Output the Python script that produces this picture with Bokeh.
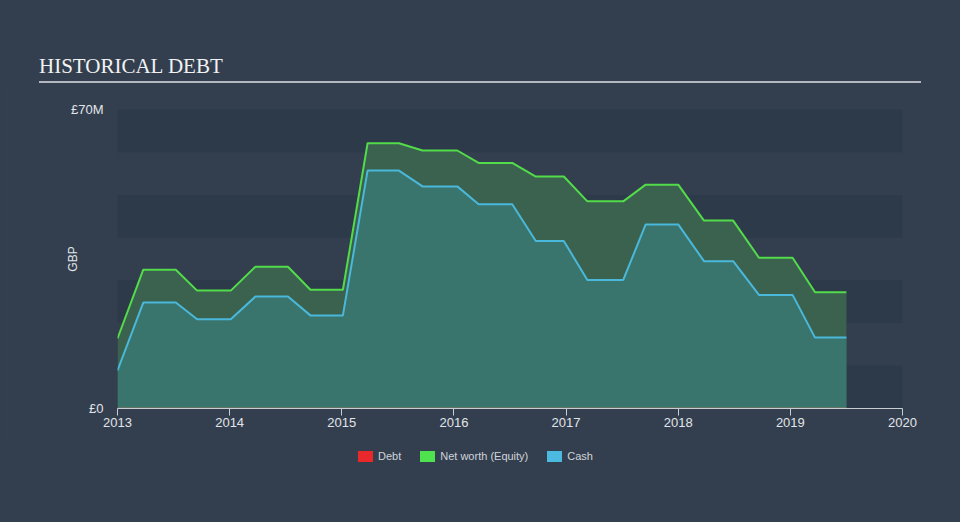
import math
from bokeh.plotting import figure
from bokeh.layouts import column
from bokeh.models import (ColumnDataSource, BoxAnnotation, Div, FixedTicker, Range1d)
from bokeh.embed import file_html
from bokeh.resources import INLINE

# ---- data ----
dates = [2013.0, 2013.23, 2013.52, 2013.71, 2014.01, 2014.23, 2014.52, 2014.72, 2015.01,
         2015.23, 2015.51, 2015.72, 2016.03, 2016.22, 2016.52, 2016.73, 2016.98, 2017.19,
         2017.51, 2017.71, 2018.0, 2018.23, 2018.49, 2018.72, 2019.02, 2019.22, 2019.5]
net_worth = [16.4, 32.5, 32.5, 27.6, 27.6, 33.2, 33.2, 27.8, 27.8,
             62.1, 62.1, 60.4, 60.4, 57.5, 57.5, 54.3, 54.3, 48.5,
             48.5, 52.4, 52.4, 44.0, 44.0, 35.3, 35.3, 27.2, 27.2]
cash = [8.9, 24.8, 24.8, 20.9, 20.9, 26.2, 26.2, 21.8, 21.8,
        55.7, 55.7, 52.0, 52.0, 47.8, 47.8, 39.2, 39.2, 30.1,
        30.1, 43.1, 43.1, 34.5, 34.5, 26.6, 26.6, 16.6, 16.6]
debt = [0.0] * len(dates)
x_ticks = [2013, 2014, 2015, 2016, 2017, 2018, 2019, 2020]
y_ticks = [0, 70]
y_tick_labels = {0: "£0", 70: "£70M"}
title_text = "HISTORICAL DEBT"
legend_labels = ["Debt", "Net worth (Equity)", "Cash"]
legend_colors = ["#e8282b", "#4fe24f", "#4bb9e0"]

BG = "#333f4f"
BAND = "#2d3a49"
TXT = "#e2e5e9"
HEADER_H = 84
FIG_H = 356
FOOTER_H = 522 - HEADER_H - FIG_H

src = ColumnDataSource(dict(x=dates, nw=net_worth, cash=cash, debt=debt,
                            zero=[0.0] * len(dates)))

header = Div(
    text=(f'<div style="margin-left:39px;width:882px;padding-top:56px;padding-bottom:4px;'
          f'line-height:21px;font-family:\'Liberation Serif\';font-size:21px;color:#f2f2f2;'
          f'border-bottom:2px solid #b4b9bf;">{title_text}</div>'),
    width=960, height=HEADER_H, margin=0,
    styles={"background-color": BG})

items_html = "".join(
    f'<span style="display:inline-block;width:15px;height:11px;background:{c};'
    f'margin-right:5px;"></span>'
    f'<span style="margin-right:19px;">{lab}</span>'
    for lab, c in zip(legend_labels, legend_colors))
footer = Div(
    text=(f'<div style="display:flex;align-items:center;padding-left:358px;padding-top:16px;'
          f'height:11px;line-height:11px;font-family:\'Liberation Sans\';font-size:11px;'
          f'color:#d0d4d9;white-space:nowrap;">{items_html}</div>'),
    width=960, height=FOOTER_H, margin=0,
    styles={"background-color": BG})

p = figure(width=960, height=FIG_H, output_backend="svg", toolbar_location=None,
           x_range=Range1d(2013, 2020), y_range=Range1d(0, 70),
           min_border_left=117, min_border_right=58, min_border_top=109 - HEADER_H,
           min_border_bottom=HEADER_H + FIG_H - 408, margin=0)
p.background_fill_color = BG
p.border_fill_color = BG
p.outline_line_color = None
p.xgrid.visible = False
p.ygrid.visible = False

# alternating bands
for lo in (0, 20, 40, 60):
    p.add_layout(BoxAnnotation(bottom=lo, top=lo + 10, fill_color=BAND, fill_alpha=1.0,
                               line_color=None, level="underlay"))

p.varea(x="x", y1="zero", y2="nw", source=src, fill_color="#3b614f", fill_alpha=1.0)
p.varea(x="x", y1="zero", y2="cash", source=src, fill_color="#3a756d", fill_alpha=1.0)
p.line(x="x", y="nw", source=src, line_color="#52dc4a", line_width=2)
p.line(x="x", y="cash", source=src, line_color="#4ab8da", line_width=2)
p.line(x="x", y="debt", source=src, line_color="#e0705c", line_width=1.5)

# axes
xa = p.xaxis[0]
xa.ticker = FixedTicker(ticks=x_ticks)
xa.minor_tick_line_color = None
xa.axis_line_color = "#c9ced4"
xa.major_tick_line_color = "#c9ced4"
xa.major_tick_in = 0
xa.major_tick_out = 7
xa.major_label_standoff = 2
xa.major_label_text_color = TXT
xa.major_label_text_font = "Liberation Sans"
xa.major_label_text_font_size = "13px"

ya = p.yaxis[0]
ya.ticker = FixedTicker(ticks=y_ticks)
ya.major_label_overrides = y_tick_labels
ya.axis_line_color = None
ya.major_tick_line_color = None
ya.minor_tick_line_color = None
ya.major_tick_in = 0
ya.major_tick_out = 0
ya.major_label_standoff = 14
ya.major_label_text_color = TXT
ya.major_label_text_font = "Liberation Sans"
ya.major_label_text_font_size = "13px"
ya.axis_label = "GBP"
ya.axis_label_standoff = -12
ya.axis_label_text_font = "Liberation Sans"
ya.axis_label_text_font_size = "12px"
ya.axis_label_text_font_style = "normal"
ya.axis_label_text_color = TXT

layout = column(header, p, footer, spacing=0, margin=0, styles={"background-color": BG})
open("out.html", "w").write(file_html(layout, INLINE))
